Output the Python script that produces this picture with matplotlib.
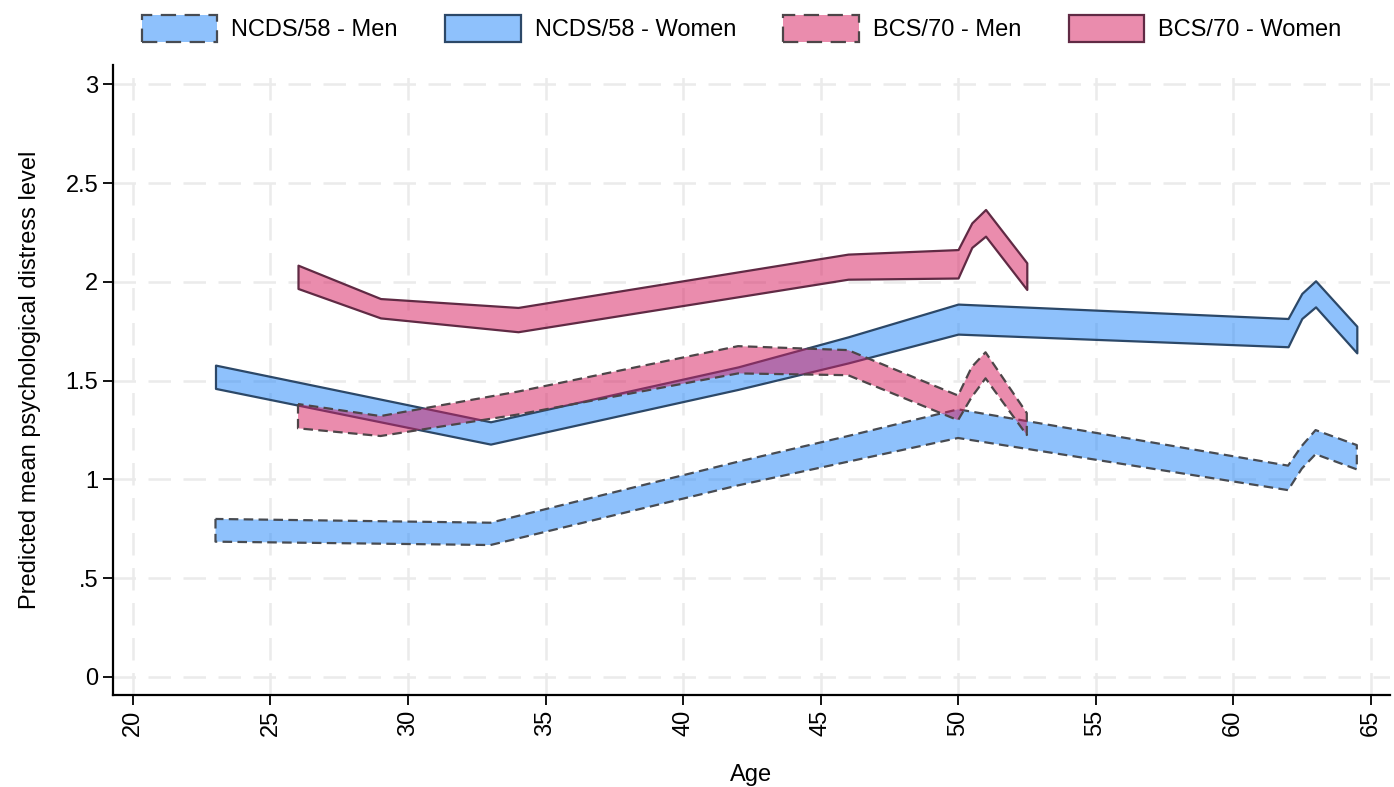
import numpy as np
import matplotlib.pyplot as plt

plt.rcParams['font.family'] = ['Liberation Sans', 'DejaVu Sans']

# Predicted distress with 95% CI bands, by cohort and sex
ncds_age = [23, 33, 42, 46, 50, 62, 62.5, 63, 64.5]
ncds_men_hi = [0.80, 0.781, 1.09, 1.22, 1.355, 1.07, 1.17, 1.25, 1.174]
ncds_men_lo = [0.685, 0.668, 0.97, 1.09, 1.21, 0.946, 1.055, 1.128, 1.051]
ncds_women_hi = [1.579, 1.292, 1.57, 1.722, 1.888, 1.815, 1.942, 2.006, 1.776]
ncds_women_lo = [1.461, 1.179, 1.456, 1.59, 1.736, 1.672, 1.815, 1.874, 1.641]

bcs_age = [26, 29, 34, 42, 46, 50, 50.5, 51, 52.5]
bcs_men_hi = [1.382, 1.321, 1.445, 1.675, 1.655, 1.425, 1.57, 1.644, 1.336]
bcs_men_lo = [1.259, 1.22, 1.329, 1.537, 1.528, 1.30, 1.418, 1.512, 1.225]
bcs_women_hi = [2.085, 1.916, 1.871, 2.051, 2.141, 2.164, 2.299, 2.367, 2.097]
bcs_women_lo = [1.967, 1.818, 1.748, 1.925, 2.014, 2.020, 2.175, 2.232, 1.962]

x_ticks = list(range(20, 70, 5))
y_ticks = [0, 0.5, 1, 1.5, 2, 2.5, 3]
y_labels = ['0', '.5', '1', '1.5', '2', '2.5', '3']

blue = (0.12, 0.52, 0.98, 0.5)
pink = (0.84, 0.10, 0.36, 0.5)
dash = (0, (4.3, 2.4))

series = [
    ('NCDS/58 - Men', ncds_age, ncds_men_lo, ncds_men_hi, blue, '#474b52', dash),
    ('NCDS/58 - Women', ncds_age, ncds_women_lo, ncds_women_hi, blue, '#2c4868', '-'),
    ('BCS/70 - Men', bcs_age, bcs_men_lo, bcs_men_hi, pink, '#4d4548', dash),
    ('BCS/70 - Women', bcs_age, bcs_women_lo, bcs_women_hi, pink, '#602a44', '-'),
]

fig = plt.figure(figsize=(13.94, 7.87), dpi=100)
ax = fig.add_axes([0.081, 0.117, 0.916, 0.800])

for label, x, lo, hi, fc, ec, ls in series:
    ax.fill_between(x, lo, hi, facecolor=fc, edgecolor=ec, linestyle=ls,
                    linewidth=1.6, label=label)

ax.set_xlim(19.27, 65.7)
ax.set_ylim(-0.091, 3.097)
ax.set_xticks(x_ticks)
ax.set_yticks(y_ticks)
ax.set_yticklabels(y_labels)
ax.tick_params(axis='x', labelrotation=90)
ax.tick_params(labelsize=17, length=7, width=1.3, direction='out')

ax.grid(True, color='#ebebeb', linewidth=1.8, linestyle=(0, (9, 5)))
ax.set_axisbelow(True)
for side in ['top', 'right']:
    ax.spines[side].set_visible(False)
for side in ['left', 'bottom']:
    ax.spines[side].set_linewidth(1.6)

ax.set_xlabel('Age', fontsize=17, labelpad=20)
ax.set_ylabel('Predicted mean psychological distress level', fontsize=17, labelpad=18)

fig.legend(loc='center', bbox_to_anchor=(0.532, 0.964), ncol=4, frameon=False,
           fontsize=17, handlelength=3.2, handleheight=1.35, handletextpad=0.6,
           columnspacing=2.0)

fig.savefig('out.png', dpi=100)
